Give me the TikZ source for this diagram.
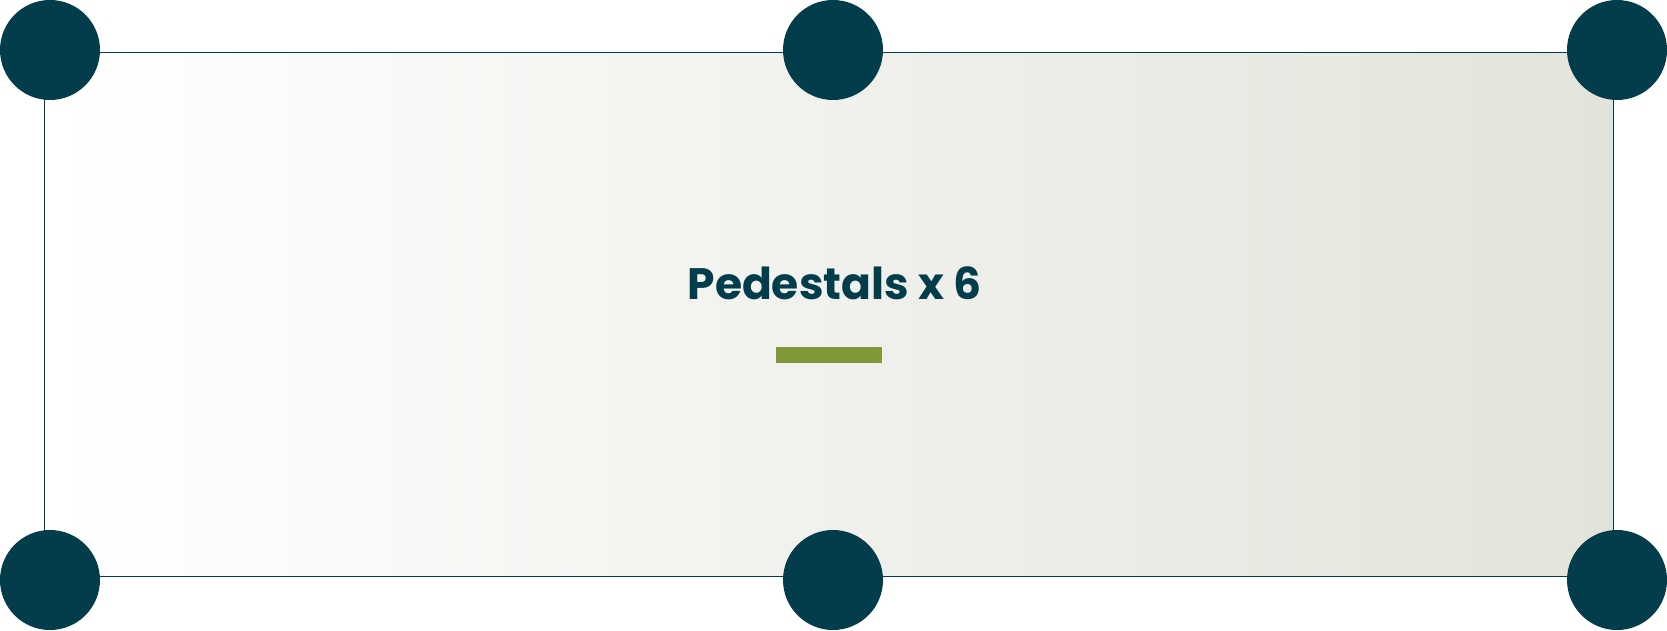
\documentclass[tikz,border=0pt]{standalone}
\usepackage{fontspec}
\setmainfont{Poppins}
\definecolor{pedteal}{HTML}{033D4C}
\definecolor{pedgreen}{HTML}{809838}
\definecolor{pedstone}{HTML}{E2E3DA}
\begin{document}
\begin{tikzpicture}[x=1pt,y=-1pt,
		pedestal/.style={circle,fill=pedteal,inner sep=0pt,minimum size=100pt}]
		\useasboundingbox (0,0) rectangle (1667,631);
		\coordinate (c1) at (44,53);
		\coordinate (c2) at (1613,576);
		
		% The shaded panel
		\shade[left color=white,right color=pedstone] (c1) rectangle (c2);
		\draw[pedteal,line width=1pt] (c1) rectangle (c2);
		% title and the green bar
		\node[anchor=base,text=pedteal,font=\bfseries\fontsize{44}{48}\selectfont,inner sep=0pt] (title) at (834.5,299.5) {Pedestals x 6};
		\fill[pedgreen] (776,347) rectangle (882,363);
		
		% the pedestals
		\foreach \n/\x/\y in {1/50/50,2/833/50,3/1617/50,4/50/580,5/833/580,6/1617/580}
		{
			\node[pedestal] (ped\n) at (\x,\y) {};
		}
	\end{tikzpicture}
\end{document}
